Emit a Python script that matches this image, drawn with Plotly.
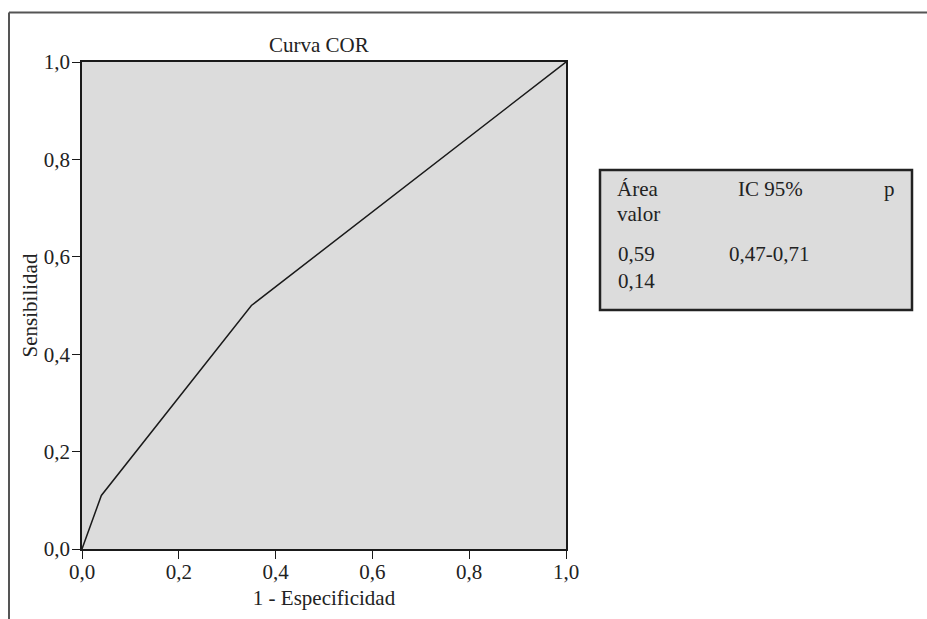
import plotly.graph_objects as go

fpr = [0.0, 0.04, 0.35, 1.0]
tpr = [0.0, 0.11, 0.50, 1.0]
tick_vals = [0.0, 0.2, 0.4, 0.6, 0.8, 1.0]
tick_text = ["0,0", "0,2", "0,4", "0,6", "0,8", "1,0"]
title_text = "Curva COR"
x_title = "1 - Especificidad"
y_title = "Sensibilidad"
table_header = ["Área", "IC 95%", "p"]
table_header2 = "valor"
table_values = ["0,59", "0,47-0,71"]
table_values2 = "0,14"

W, H = 927, 619
L, R, T, B = 82, 566, 62, 549
pw, ph = R - L, B - T

def px(x):
    return (x - L) / pw

def py(y):
    return (B - y) / ph

FONT = "Liberation Serif"
fs = 21

fig = go.Figure()
fig.add_trace(go.Scatter(x=fpr, y=tpr, mode="lines",
                         line=dict(color="#1a1a1a", width=1.5),
                         hoverinfo="skip", showlegend=False))

axis_common = dict(range=[0, 1], tickvals=tick_vals, ticktext=tick_text,
                   showgrid=False, zeroline=False, showline=True,
                   linecolor="#1a1a1a", linewidth=1.5, mirror=True,
                   ticks="outside", ticklen=8, tickwidth=1.3, tickcolor="#1a1a1a",
                   tickfont=dict(family=FONT, size=fs, color="#222"))

fig.update_xaxes(**axis_common, ticklabelstandoff=-5,
                 title=dict(text=x_title, font=dict(family=FONT, size=fs, color="#222"), standoff=7))
fig.update_yaxes(**axis_common, ticklabelstandoff=-2,
                 title=dict(text=y_title, font=dict(family=FONT, size=fs, color="#222"), standoff=0))

shapes = [
    dict(type="line", xref="paper", yref="paper", x0=px(9), x1=px(W + 5), y0=py(12.5), y1=py(12.5),
         line=dict(color="#555", width=2)),
    dict(type="line", xref="paper", yref="paper", x0=px(9), x1=px(9), y0=py(12.5), y1=py(H + 5),
         line=dict(color="#555", width=2)),
    dict(type="rect", xref="paper", yref="paper", x0=px(600), x1=px(912), y0=py(310), y1=py(170),
         fillcolor="#dcdcdc", line=dict(color="#222", width=2.5)),
]

tf = dict(family=FONT, size=fs, color="#222")
ann = [
    dict(text=title_text, x=px(319), y=py(45), xref="paper", yref="paper", showarrow=False,
         xanchor="center", yanchor="middle", font=tf),
    dict(text=table_header[0], x=px(615), y=py(189), xref="paper", yref="paper", showarrow=False,
         xanchor="left", yanchor="middle", font=tf),
    dict(text=table_header[1], x=px(736), y=py(189), xref="paper", yref="paper", showarrow=False,
         xanchor="left", yanchor="middle", font=tf),
    dict(text=table_header[2], x=px(882), y=py(189), xref="paper", yref="paper", showarrow=False,
         xanchor="left", yanchor="middle", font=tf),
    dict(text=table_header2, x=px(615), y=py(214), xref="paper", yref="paper", showarrow=False,
         xanchor="left", yanchor="middle", font=tf),
    dict(text=table_values[0], x=px(616), y=py(254), xref="paper", yref="paper", showarrow=False,
         xanchor="left", yanchor="middle", font=tf),
    dict(text=table_values[1], x=px(727), y=py(254), xref="paper", yref="paper", showarrow=False,
         xanchor="left", yanchor="middle", font=tf),
    dict(text=table_values2, x=px(616), y=py(281), xref="paper", yref="paper", showarrow=False,
         xanchor="left", yanchor="middle", font=tf),
]

fig.update_layout(width=W, height=H, margin=dict(l=L, r=W - R, t=T, b=H - B, autoexpand=False),
                  paper_bgcolor="white", plot_bgcolor="#dcdcdc",
                  shapes=shapes, annotations=ann, showlegend=False)

fig.write_html("out.html", config={"displayModeBar": False},
               post_script="document.body.style.margin='0';document.body.style.overflow='hidden';")
